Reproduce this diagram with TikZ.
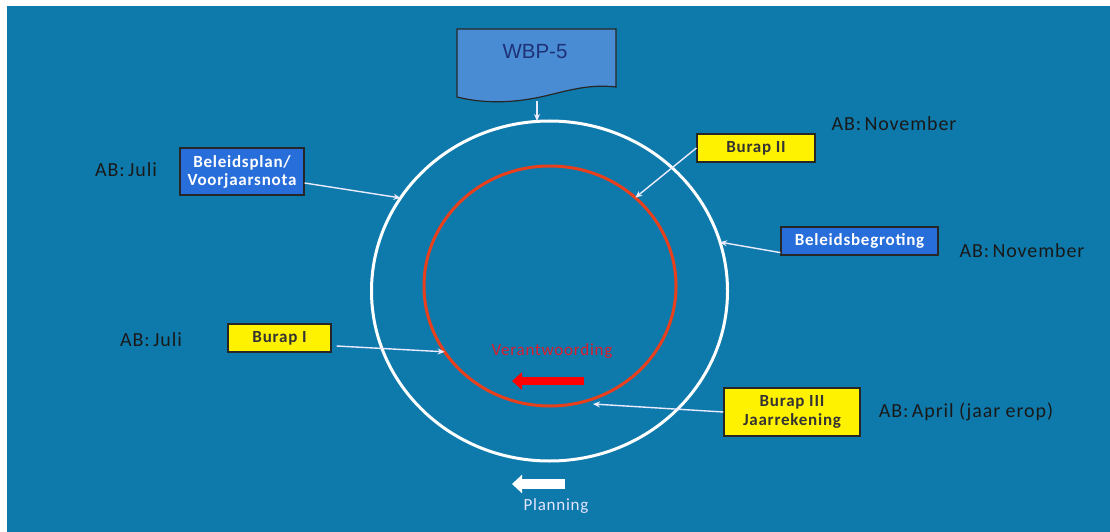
\documentclass[tikz,border=0pt]{standalone}
\usepackage{fontspec}
\setmainfont{Carlito}
\newfontfamily\arialfont{Liberation Sans}
\newfontfamily\spacedfont[LetterSpace=4.5]{Carlito}
\usetikzlibrary{shapes.geometric,arrows.meta}
\definecolor{bgblue}{RGB}{14,122,171}
\definecolor{docblue}{RGB}{74,140,212}
\definecolor{boxblue}{RGB}{40,110,218}
\definecolor{navytxt}{RGB}{30,50,120}
\definecolor{ringred}{RGB}{232,64,28}
\definecolor{txtred}{RGB}{220,28,45}
\tikzset{
  bluebox/.style={draw=black!85, line width=1.2pt, fill=boxblue, text=white, font=\spacedfont\bfseries\fontsize{17}{18}\selectfont, inner sep=3pt, align=center},
  yellowbox/.style={draw=black!85, line width=1.2pt, fill=yellow, text=black!80, font=\spacedfont\bfseries\fontsize{17}{18.5}\selectfont, inner sep=3pt, align=center},
  ablabel/.style={text=black!90, font=\spacedfont\fontsize{20}{22}\selectfont},
  thinarrow/.style={draw=white!92!blue, line width=1.4pt, -{Stealth[length=7pt,width=6pt]}},
  ring/.style={ellipse, inner sep=0pt, outer sep=0pt, line width=3pt}
}
\begin{document}
\begin{tikzpicture}[x=1pt,y=-1pt]
\useasboundingbox (0,0) rectangle (1110,532);
\fill[white] (0,0) rectangle (1110,532);
\fill[bgblue] (7,6) rectangle (1110,532);

% rings
\node[ring, draw=white, minimum width=356pt, minimum height=340pt] (outer) at (549.5,291) {};
\node[ring, draw=ringred, minimum width=252pt, minimum height=240pt] (inner) at (550,286) {};

% WBP-5 document
\draw[fill=docblue, draw=black!85, line width=1.2pt]
  (457,29) -- (616,29) -- (616,87)
  .. controls (590,84) and (570,90) .. (545,96)
  .. controls (515,103) and (485,104) .. (457,97) -- cycle;
\node[text=navytxt, font=\arialfont\fontsize{20.5}{22}\selectfont] (wbp) at (535,52) {WBP-5};
\coordinate (wbpbot) at (537,101);

% boxes
\node[bluebox, minimum width=124pt, minimum height=47pt] (bp) at (242,171.5) {Beleidsplan/\\Voorjaarsnota};
\node[yellowbox, minimum width=118pt, minimum height=28pt] (b2) at (756,148) {Burap II};
\node[bluebox, minimum width=157pt, minimum height=28pt] (bb) at (859.5,241) {Beleidsbegroting};
\node[yellowbox, minimum width=103pt, minimum height=28pt] (b1) at (279.5,338) {Burap I};
\node[yellowbox, minimum width=136pt, minimum height=48pt] (b3) at (792,412) {Burap III\\Jaarrekening};

% AB labels
\node[ablabel] (ab1) at (126,170) {AB:\,Juli};
\node[ablabel] (ab2) at (151,340) {AB:\,Juli};
\node[ablabel] (ab3) at (894,124) {AB:\,November};
\node[ablabel] (ab4) at (1022,251) {AB:\,November};
\node[ablabel] (ab5) at (966,412) {AB:\,April (jaar erop)};

% inner texts
\node[text=txtred, font=\spacedfont\fontsize{17}{18}\selectfont] (verant) at (552,351) {Verantwoording};
\node[text=white!90!blue, font=\spacedfont\fontsize{17}{18}\selectfont] (plan) at (556,506) {Planning};

% thick arrows
\coordinate (ra1) at (584,381);
\coordinate (ra2) at (512,381);
\draw[draw=red, line width=8pt, -{Triangle[length=10pt,width=17pt]}] (ra1) -- (ra2);
\coordinate (wa1) at (565,484);
\coordinate (wa2) at (512,484);
\draw[draw=white, line width=10pt, -{Triangle[length=10pt,width=18pt]}] (wa1) -- (wa2);

% connectors
\coordinate (b3end) at (593,404);
\draw[thinarrow] (wbpbot) -- (wbpbot |- outer.north);
\draw[thinarrow] (bp.east |- 0,183) -- (outer.148);
\draw[thinarrow] (b2.west) -- (inner.46.6);
\draw[thinarrow] (bb.south west) ++(0,-3) -- (outer.16);
\draw[thinarrow] ([xshift=5pt,yshift=-8pt]b1.east) -- (inner.212);
\draw[thinarrow] (b3.west) -- (b3end);
\end{tikzpicture}
\end{document}
